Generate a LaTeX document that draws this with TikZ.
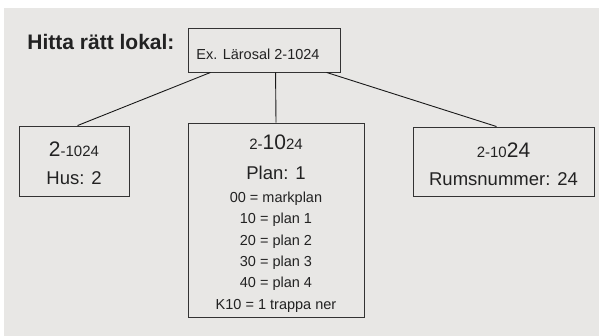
\documentclass[tikz,border=0pt]{standalone}
\usepackage{fontspec}
\setmainfont{Liberation Sans}
\usetikzlibrary{positioning}
\definecolor{bggrey}{RGB}{232,231,229}
\definecolor{ink}{RGB}{34,34,34}
\newcommand{\bignum}[1]{{\fontsize{21}{21}\selectfont #1}}
\newcommand{\smallnum}[1]{{\fontsize{15}{15}\selectfont #1}}

\begin{document}
\begin{tikzpicture}
	[x=1pt,y=-1pt,every node/.style={text=ink},
	box/.style={shape=rectangle,draw=black!80,line width=0.9pt,align=center,inner sep=0pt},
	link/.style={-,draw=black!90,line width=0.9pt}]
	\useasboundingbox (0,0) rectangle (599,336);
	\fill[bggrey] (4,8) rectangle (599,336);
	\node[anchor=base,inner sep=0pt,font=\fontsize{21}{21}\selectfont\bfseries] (title) at (101,50) {Hitta rätt lokal:};
	\node[box,minimum width=152pt,minimum height=44pt,text height=20pt,text depth=0pt,
		font=\fontsize{14.5}{17}\selectfont] (ex) at (264,50) {Ex. Lärosal 2-1024\hspace{12pt}};
	\node[box,minimum width=110pt,minimum height=70pt,font=\fontsize{18.5}{28}\selectfont] (hus) at (74,161)
		{\rule{0pt}{19pt}\bignum{2}\smallnum{-1024}\\Hus: 2};
	\node[box,minimum width=176pt,minimum height=194pt,font=\fontsize{14.5}{21.4}\selectfont] (plan) at (276,220)
		{\rule{0pt}{22pt}\smallnum{2-}\bignum{10}\smallnum{24}\\[9pt]
		{\fontsize{18.5}{22}\selectfont Plan: 1}\\[1pt]
		00 = markplan\\10 = plan 1\\20 = plan 2\\30 = plan 3\\40 = plan 4\\K10 = 1 trappa ner};
	\node[box,minimum width=181pt,minimum height=69pt,font=\fontsize{18.5}{28}\selectfont] (rum) at (503.5,161.5)
		{\rule{0pt}{21pt}\smallnum{2-10}\bignum{24}\\Rumsnummer: 24};
	\draw[link] ([xshift=23pt]ex.south west) -- ([xshift=59pt]hus.north west);
	\draw[link] ([xshift=88pt]ex.south west) -- (plan.north);
	\draw[link] ([xshift=139pt]ex.south west) -- ([xshift=84pt]rum.north west);
\end{tikzpicture}
\end{document}
